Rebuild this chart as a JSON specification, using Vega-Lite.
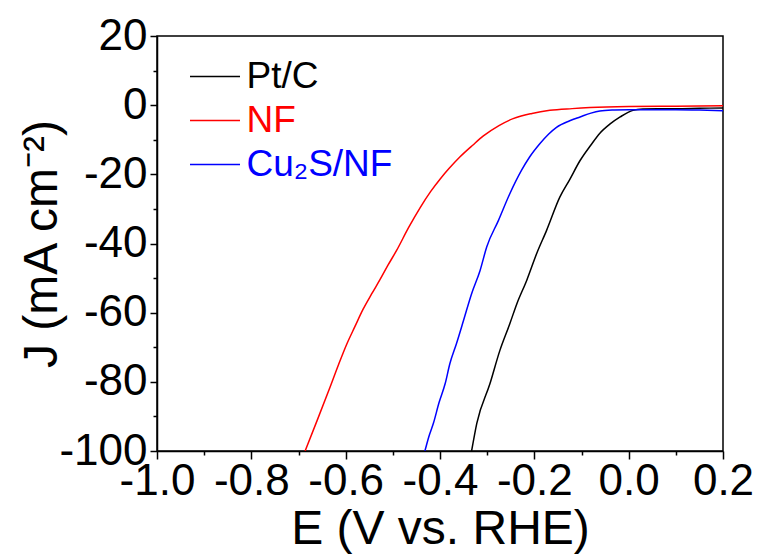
{
  "$schema": "https://vega.github.io/schema/vega-lite/v6.json",
  "autosize": {"type": "none"},
  "padding": {"left": 157, "top": 36, "right": 40, "bottom": 104},
  "width": 566,
  "height": 415,
  "background": "white",
  "config": {
    "font": "Liberation Sans",
    "view": {"stroke": "black", "strokeWidth": 1.5},
    "axis": {"grid": false, "domainColor": "black", "domainWidth": 1.5, "tickColor": "black", "tickWidth": 1.5, "labelColor": "black", "titleColor": "black", "labelFont": "Liberation Sans", "titleFont": "Liberation Sans", "titleFontWeight": "normal", "labelOverlap": false, "labelFlush": false}
  },
  "data": {"values": [
    {"E": -0.333, "J": -100, "s": "Pt/C"},
    {"E": -0.322, "J": -92, "s": "Pt/C"},
    {"E": -0.294, "J": -80.5, "s": "Pt/C"},
    {"E": -0.273, "J": -70.9, "s": "Pt/C"},
    {"E": -0.252, "J": -63.2, "s": "Pt/C"},
    {"E": -0.237, "J": -57.4, "s": "Pt/C"},
    {"E": -0.216, "J": -50.6, "s": "Pt/C"},
    {"E": -0.195, "J": -42.9, "s": "Pt/C"},
    {"E": -0.174, "J": -36.2, "s": "Pt/C"},
    {"E": -0.146, "J": -26.6, "s": "Pt/C"},
    {"E": -0.125, "J": -21.5, "s": "Pt/C"},
    {"E": -0.103, "J": -16.0, "s": "Pt/C"},
    {"E": -0.080, "J": -11.5, "s": "Pt/C"},
    {"E": -0.061, "J": -8.1, "s": "Pt/C"},
    {"E": -0.040, "J": -5.5, "s": "Pt/C"},
    {"E": -0.018, "J": -3.4, "s": "Pt/C"},
    {"E": 0.009, "J": -1.5, "s": "Pt/C"},
    {"E": 0.030, "J": -1.1, "s": "Pt/C"},
    {"E": 0.060, "J": -1.0, "s": "Pt/C"},
    {"E": 0.100, "J": -1.0, "s": "Pt/C"},
    {"E": 0.150, "J": -0.9, "s": "Pt/C"},
    {"E": 0.200, "J": -0.8, "s": "Pt/C"},
    {"E": -0.686, "J": -100, "s": "NF"},
    {"E": -0.660, "J": -91, "s": "NF"},
    {"E": -0.633, "J": -81.5, "s": "NF"},
    {"E": -0.615, "J": -75.0, "s": "NF"},
    {"E": -0.598, "J": -69.2, "s": "NF"},
    {"E": -0.580, "J": -63.9, "s": "NF"},
    {"E": -0.563, "J": -59.0, "s": "NF"},
    {"E": -0.545, "J": -54.6, "s": "NF"},
    {"E": -0.527, "J": -50.4, "s": "NF"},
    {"E": -0.510, "J": -46.2, "s": "NF"},
    {"E": -0.492, "J": -42.0, "s": "NF"},
    {"E": -0.467, "J": -35.5, "s": "NF"},
    {"E": -0.442, "J": -29.6, "s": "NF"},
    {"E": -0.420, "J": -25.0, "s": "NF"},
    {"E": -0.400, "J": -21.4, "s": "NF"},
    {"E": -0.380, "J": -18.2, "s": "NF"},
    {"E": -0.358, "J": -15.0, "s": "NF"},
    {"E": -0.330, "J": -11.5, "s": "NF"},
    {"E": -0.308, "J": -8.9, "s": "NF"},
    {"E": -0.275, "J": -5.9, "s": "NF"},
    {"E": -0.245, "J": -3.9, "s": "NF"},
    {"E": -0.205, "J": -2.4, "s": "NF"},
    {"E": -0.167, "J": -1.5, "s": "NF"},
    {"E": -0.120, "J": -1.0, "s": "NF"},
    {"E": -0.082, "J": -0.7, "s": "NF"},
    {"E": 0.000, "J": -0.4, "s": "NF"},
    {"E": 0.100, "J": -0.3, "s": "NF"},
    {"E": 0.200, "J": -0.2, "s": "NF"},
    {"E": -0.432, "J": -100, "s": "Cu₂S/NF"},
    {"E": -0.424, "J": -96, "s": "Cu₂S/NF"},
    {"E": -0.414, "J": -92, "s": "Cu₂S/NF"},
    {"E": -0.402, "J": -86, "s": "Cu₂S/NF"},
    {"E": -0.389, "J": -80.5, "s": "Cu₂S/NF"},
    {"E": -0.379, "J": -74.7, "s": "Cu₂S/NF"},
    {"E": -0.365, "J": -68.9, "s": "Cu₂S/NF"},
    {"E": -0.350, "J": -62.2, "s": "Cu₂S/NF"},
    {"E": -0.333, "J": -54.5, "s": "Cu₂S/NF"},
    {"E": -0.315, "J": -47.8, "s": "Cu₂S/NF"},
    {"E": -0.301, "J": -41.0, "s": "Cu₂S/NF"},
    {"E": -0.276, "J": -33.3, "s": "Cu₂S/NF"},
    {"E": -0.252, "J": -25.6, "s": "Cu₂S/NF"},
    {"E": -0.227, "J": -18.8, "s": "Cu₂S/NF"},
    {"E": -0.210, "J": -15.0, "s": "Cu₂S/NF"},
    {"E": -0.188, "J": -11.1, "s": "Cu₂S/NF"},
    {"E": -0.170, "J": -8.4, "s": "Cu₂S/NF"},
    {"E": -0.153, "J": -6.4, "s": "Cu₂S/NF"},
    {"E": -0.125, "J": -4.5, "s": "Cu₂S/NF"},
    {"E": -0.103, "J": -3.4, "s": "Cu₂S/NF"},
    {"E": -0.080, "J": -2.3, "s": "Cu₂S/NF"},
    {"E": -0.061, "J": -1.7, "s": "Cu₂S/NF"},
    {"E": -0.030, "J": -1.4, "s": "Cu₂S/NF"},
    {"E": 0.000, "J": -1.3, "s": "Cu₂S/NF"},
    {"E": 0.050, "J": -1.3, "s": "Cu₂S/NF"},
    {"E": 0.100, "J": -1.3, "s": "Cu₂S/NF"},
    {"E": 0.150, "J": -1.4, "s": "Cu₂S/NF"},
    {"E": 0.200, "J": -1.6, "s": "Cu₂S/NF"}
  ]},
  "layer": [
    {
      "mark": {"type": "line", "strokeWidth": 1.5, "clip": true, "interpolate": "monotone"},
      "encoding": {
        "x": {"field": "E", "type": "quantitative",
          "scale": {"domain": [-1.0, 0.2], "nice": false, "zero": false},
          "axis": {"orient": "bottom", "values": [-1.0, -0.8, -0.6, -0.4, -0.2, 0.0, 0.2], "labelExpr": "replace(format(datum.value, '.1f'), '\u2212', '-')", "labelFontSize": 44, "labelPadding": 0, "tickSize": 8, "title": "E (V vs. RHE)", "titleFontSize": 48, "titlePadding": 2}},
        "y": {"field": "J", "type": "quantitative",
          "scale": {"domain": [-100, 20], "nice": false, "zero": false},
          "axis": {"orient": "left", "values": [-100, -80, -60, -40, -20, 0, 20], "labelExpr": "replace(format(datum.value, 'd'), '\u2212', '-')", "labelFontSize": 44, "labelPadding": 3, "tickSize": 7, "title": "J (mA cm⁻²)", "titleFontSize": 48, "titlePadding": -8}},
        "color": {"field": "s", "type": "nominal", "sort": null,
          "scale": {"domain": ["Pt/C", "NF", "Cu₂S/NF"], "range": ["#000000", "#ff0000", "#0000ff"]},
          "legend": {"orient": "none", "legendX": 39.5, "legendY": 22, "title": null, "padding": 0,
            "symbolType": "M-2,0L2,0", "symbolSize": 625, "symbolStrokeWidth": 1.5,
            "labelFont": "Liberation Sans", "labelFontSize": 37, "labelOffset": 13, "rowPadding": 6,
            "encode": {"labels": {"update": {"fill": {"scale": "color", "field": "value"}}}}}}
      }
    },
    {
      "mark": {"type": "line", "opacity": 0},
      "encoding": {
        "x": {"field": "E", "type": "quantitative",
          "axis": {"orient": "bottom", "values": [-0.9, -0.7, -0.5, -0.3, -0.1, 0.1], "labels": false, "domain": false, "tickSize": 4, "title": null}},
        "y": {"field": "J", "type": "quantitative",
          "axis": {"orient": "left", "values": [-90, -70, -50, -30, -10, 10], "labels": false, "domain": false, "tickSize": 4, "title": null}}
      }
    }
  ],
  "resolve": {"axis": {"x": "independent", "y": "independent"}}
}
